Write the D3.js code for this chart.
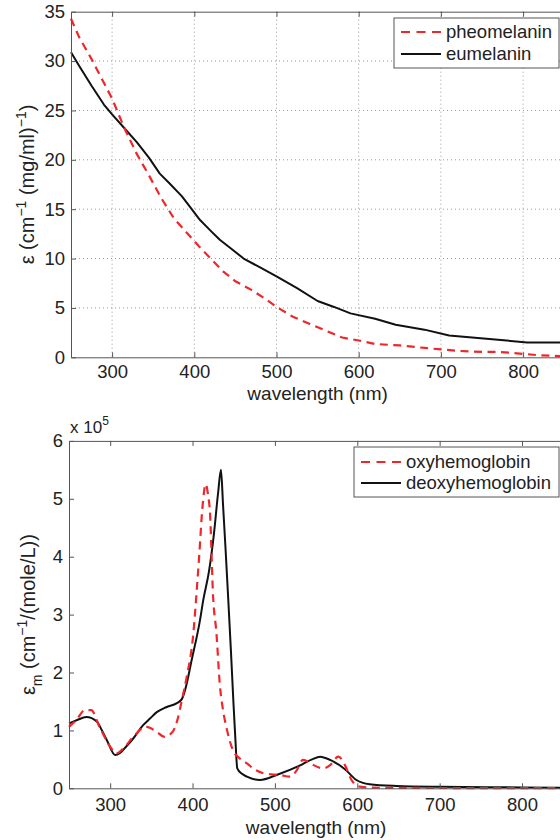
<!DOCTYPE html>
<html>
<head>
<meta charset="utf-8">
<script src="https://cdn.jsdelivr.net/npm/d3@7"></script>
<style>
  body { margin: 0; background: #fff; }
  svg { display: block; }
  text { font-family: "Liberation Sans", Arial, Helvetica, sans-serif; fill: #222; }
</style>
</head>
<body>
<script>
// ---- data ----
var xTicks = [300, 400, 500, 600, 700, 800];

// top panel: melanin extinction, cm^-1 (mg/ml)^-1
var pheoWl  = [250, 260, 275, 290, 300, 315, 330, 345, 360, 375, 390, 405, 420, 435, 450, 470, 485, 500, 520, 540, 560, 580, 600, 620, 650, 680, 700, 720, 750, 770, 800, 820, 850];
var pheoVal = [34.3, 32.4, 30.2, 27.8, 26.2, 23.2, 20.6, 18.4, 16.1, 14.1, 12.7, 11.3, 10.0, 8.7, 7.7, 6.8, 6.0, 5.1, 4.1, 3.4, 2.7, 2.0, 1.7, 1.35, 1.2, 0.95, 0.8, 0.65, 0.55, 0.55, 0.35, 0.2, 0.1];
var euWl    = [250, 260, 275, 290, 300, 315, 330, 345, 358, 370, 385, 395, 407, 420, 431, 445, 460, 480, 500, 525, 550, 570, 590, 620, 645, 680, 710, 745, 780, 805, 850];
var euVal   = [30.9, 29.5, 27.5, 25.6, 24.6, 23.2, 21.8, 20.2, 18.6, 17.6, 16.3, 15.2, 13.9, 12.8, 11.9, 11.0, 10.0, 9.1, 8.2, 7.0, 5.7, 5.1, 4.45, 3.9, 3.3, 2.8, 2.2, 1.95, 1.7, 1.5, 1.5];
var melYTicks = [0, 5, 10, 15, 20, 25, 30, 35];

// bottom panel: hemoglobin molar extinction, units of 1e5 cm^-1/(mole/L)
var oxyWl    = [250, 260, 269, 277, 287, 300, 307, 318, 328, 344, 356, 366, 376, 382, 387, 393, 401, 405, 408, 412, 416, 419, 421, 425, 429, 433, 437, 441, 449, 457, 466, 476, 486, 496, 506, 518, 526, 534, 540, 547, 559, 567, 577, 585, 593, 603, 620, 700, 850];
var oxyVal   = [1.06, 1.2, 1.35, 1.35, 1.06, 0.72, 0.6, 0.72, 0.89, 1.06, 0.98, 0.89, 0.98, 1.2, 1.52, 1.93, 2.68, 3.4, 4.0, 4.85, 5.25, 5.05, 4.8, 3.3, 2.68, 1.81, 1.35, 1.06, 0.66, 0.52, 0.43, 0.32, 0.26, 0.24, 0.23, 0.2, 0.3, 0.49, 0.46, 0.4, 0.345, 0.4, 0.546, 0.4, 0.143, 0.03, 0.01, 0.005, 0.003];
var deoxyWl  = [250, 260, 271, 284, 290, 296, 306, 312, 320, 328, 340, 348, 357, 368, 381, 387, 391, 399, 409, 413, 420, 426, 431, 434.5, 437, 440, 443.4, 446.5, 449.5, 452, 454.3, 460, 466, 482, 502, 530, 545, 555, 567, 585, 599, 615, 648, 700, 800, 850];
var deoxyVal = [1.12, 1.18, 1.23, 1.15, 1.0, 0.83, 0.575, 0.61, 0.73, 0.86, 1.09, 1.2, 1.32, 1.4, 1.47, 1.54, 1.7, 2.22, 2.9, 3.25, 3.75, 4.4, 5.1, 5.5, 4.9, 4.15, 3.25, 2.4, 1.52, 0.85, 0.345, 0.25, 0.2, 0.143, 0.23, 0.39, 0.5, 0.546, 0.49, 0.33, 0.143, 0.07, 0.04, 0.025, 0.015, 0.01];
var hbYTicks = [0, 1, 2, 3, 4, 5, 6];

var RED = "#f0262a", BLACK = "#111", AXIS = "#555";

var svg = d3.select("body").append("svg")
  .attr("width", 560)
  .attr("height", 840);

function zip(xs, ys) {
  return xs.map(function(x, i) { return { x: x, y: ys[i] }; });
}

function drawPanel(cfg) {
  var x = d3.scaleLinear().domain([250, 850]).range([cfg.left, cfg.right]);
  var y = d3.scaleLinear().domain(cfg.yDomain).range([cfg.bottom, cfg.top]);
  var g = svg.append("g");

  // dotted grid
  if (cfg.grid) {
    g.selectAll(".vgrid").data(xTicks).enter().append("line")
      .attr("x1", function(d) { return x(d); }).attr("x2", function(d) { return x(d); })
      .attr("y1", cfg.top).attr("y2", cfg.bottom)
      .attr("stroke", "#999").attr("stroke-width", 1).attr("stroke-dasharray", "1,3");
    g.selectAll(".hgrid").data(cfg.yTicks.slice(1, -1)).enter().append("line")
      .attr("x1", cfg.left).attr("x2", cfg.right)
      .attr("y1", function(d) { return y(d); }).attr("y2", function(d) { return y(d); })
      .attr("stroke", "#999").attr("stroke-width", 1).attr("stroke-dasharray", "1,3");
  }

  var line = d3.line()
    .x(function(d) { return x(d.x); })
    .y(function(d) { return y(d.y); })
    .curve(cfg.curve);

  g.append("path").datum(cfg.s2)
    .attr("d", line).attr("fill", "none")
    .attr("stroke", BLACK).attr("stroke-width", 2).attr("stroke-linejoin", "round");
  g.append("path").datum(cfg.s1)
    .attr("d", line).attr("fill", "none")
    .attr("stroke", RED).attr("stroke-width", 2.2).attr("stroke-dasharray", "8,5.5");

  // axes, MATLAB style ticks pointing inward
  var xAxis = g.append("g")
    .attr("transform", "translate(0," + cfg.bottom + ")")
    .call(d3.axisBottom(x).tickValues(xTicks).tickSize(-5).tickSizeOuter(0).tickPadding(cfg.xPad));
  var topAxis = g.append("g")
    .attr("transform", "translate(0," + cfg.top + ")")
    .call(d3.axisTop(x).tickValues(xTicks).tickSize(-5).tickSizeOuter(0).tickFormat(""));
  var yAxis = g.append("g")
    .attr("transform", "translate(" + cfg.left + ",0)")
    .call(d3.axisLeft(y).tickValues(cfg.yTicks).tickFormat(d3.format("d"))
      .tickSize(-5).tickSizeOuter(0).tickPadding(6));
  [xAxis, topAxis, yAxis].forEach(function(a) {
    a.attr("font-size", null).attr("font-family", null);
    a.select(".domain").attr("stroke", AXIS);
    a.selectAll(".tick line").attr("stroke", AXIS);
    a.selectAll("text").style("font-size", "18.5px").style("fill", "#222");
  });
  g.append("line")
    .attr("x1", cfg.right).attr("x2", cfg.right).attr("y1", cfg.top).attr("y2", cfg.bottom)
    .attr("stroke", AXIS);

  // x label
  g.append("text")
    .attr("x", (cfg.left + cfg.right) / 2).attr("y", cfg.xLabelY)
    .attr("text-anchor", "middle").style("font-size", "19px")
    .text("wavelength (nm)");

  // y label
  var yl = g.append("text")
    .attr("transform", "translate(" + cfg.yLabelX + "," + (cfg.top + cfg.bottom) / 2 + ") rotate(-90)")
    .attr("text-anchor", "middle").style("font-size", "20px");
  cfg.yLabel.forEach(function(p) {
    var t = yl.append("tspan").text(p.t);
    if (p.dy) t.attr("dy", p.dy);
    if (p.fs) t.style("font-size", p.fs + "px");
  });

  // legend
  var L = cfg.legend;
  g.append("rect")
    .attr("x", L.x).attr("y", L.y).attr("width", L.w).attr("height", L.h)
    .attr("fill", "#fff").attr("stroke", AXIS).attr("stroke-width", 1);
  [{ name: L.names[0], color: RED, dash: "9,6.5" }, { name: L.names[1], color: BLACK, dash: null }]
    .forEach(function(e, i) {
      var cy = L.y + L.rows[i];
      g.append("line")
        .attr("x1", L.lx).attr("x2", L.lx + 40).attr("y1", cy).attr("y2", cy)
        .attr("stroke", e.color).attr("stroke-width", 2)
        .attr("stroke-dasharray", e.dash);
      g.append("text")
        .attr("x", L.lx + 45).attr("y", cy).attr("dy", "0.35em")
        .style("font-size", "18.5px").text(e.name);
    });
  return { x: x, y: y };
}

drawPanel({
  left: 71, right: 564.2, top: 11.7, bottom: 357.3,
  yDomain: [0, 35], yTicks: melYTicks, grid: true, xPad: 8, xLabelY: 400, yLabelX: 34,
  curve: d3.curveLinear,
  s1: zip(pheoWl, pheoVal), s2: zip(euWl, euVal),
  yLabel: [
    { t: "ε (cm" }, { t: "−1", dy: -8, fs: 14 }, { t: " (mg/ml)", dy: 8 },
    { t: "−1", dy: -8, fs: 14 }, { t: ")", dy: 8 }
  ],
  legend: { x: 394, y: 18, w: 165, h: 50, lx: 401, rows: [14, 36], names: ["pheomelanin", "eumelanin"] }
});

drawPanel({
  left: 69, right: 563.2, top: 440.9, bottom: 788.3,
  yDomain: [0, 6], yTicks: hbYTicks, grid: false, xPad: 9.5, xLabelY: 834, yLabelX: 35,
  curve: d3.curveMonotoneX,
  s1: zip(oxyWl, oxyVal), s2: zip(deoxyWl, deoxyVal),
  yLabel: [
    { t: "ε" }, { t: "m", dy: 7, fs: 14 }, { t: " (cm", dy: -7 },
    { t: "−1", dy: -8, fs: 14 }, { t: "/(mole/L))", dy: 8 }
  ],
  legend: { x: 354, y: 447, w: 205, h: 50, lx: 361, rows: [15, 36], names: ["oxyhemoglobin", "deoxyhemoglobin"] }
});

// exponent label of the lower y axis
var expo = svg.append("text").attr("x", 70).attr("y", 433).style("font-size", "17px");
expo.append("tspan").text("x 10");
expo.append("tspan").attr("dy", -8).style("font-size", "12px").text("5");
</script>
</body>
</html>
